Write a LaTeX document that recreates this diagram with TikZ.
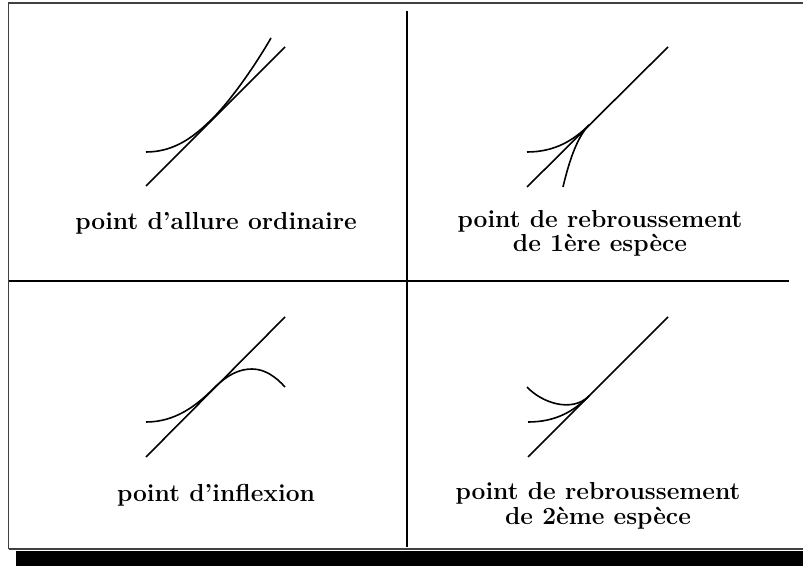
\documentclass[tikz,border=0pt]{standalone}
\usepackage{tikz}

\begin{document}
\begin{tikzpicture}[x=0.5pt, y=-0.5pt, line width=0.8pt,
  marc/.style={line width=0.6pt, black!75},
  etiqueta/.style={font=\fontsize{12.3}{10.4}\selectfont\bfseries,
    align=center, anchor=base, inner sep=0pt}]

\useasboundingbox (0,0) rectangle (803,566);

% Marc i ombra

\draw[marc] (8.5,549) -- (8.5,3) -- (815,3);

\draw[marc] (8.5,549) -- (815,549);

\fill[black] (16,550.5) rectangle (815,566);

% Separacions

\draw[line width=0.6pt] (8.5,281) -- (789,281);

\draw[line width=0.6pt] (407,11) -- (407,547);

% Point d'allure ordinaire

\draw (146,186) -- (285,47);

\draw (146,152)
  .. controls (175,152) and (195,136) ..
  (213,118)
  .. controls (232,99) and (256,64) ..
  (271,38);

\node[etiqueta] (ordinaire) at (216,230) {point d'allure ordinaire};

% Rebroussement de 1ere espece

\draw (527,187) -- (668,47);

\draw (527,152)
  .. controls (555,152) and (574,140) ..
  (589,125);

\draw (563,187)
  .. controls (568,166) and (576,138) ..
  (589,125);

\node[etiqueta] (rebr1) at (600,251.5) {point de rebroussement\\de 1ère espèce};

% Point d'inflexion

\draw (146,457) -- (285,317);

\draw (146,422)
  .. controls (175,422) and (196,406) ..
  (213,389)
  .. controls (228,374) and (240,369) ..
  (252,369)
  .. controls (265,369) and (276,377) ..
  (285,387);

\node[etiqueta] (inflexion) at (216,502) {point d'inflexion};

% Rebroussement de 2eme espece

\draw (528,457) -- (668,317);

\draw (528,422)
  .. controls (556,422) and (574,411) ..
  (589,396);

\draw (527,387)
  .. controls (542,403) and (572,413) ..
  (589,396);

\node[etiqueta] (rebr2) at (598,524) {point de rebroussement\\de 2ème espèce};

\end{tikzpicture}
\end{document}
